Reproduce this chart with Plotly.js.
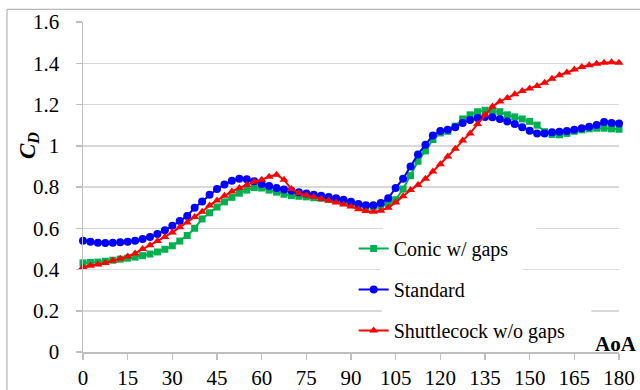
<!DOCTYPE html>
<html>
<head>
<meta charset="utf-8">
<script src="https://cdn.plot.ly/plotly-3.0.1.min.js"></script>
<style>
html,body{margin:0;padding:0;background:#fff;}
#chart{width:640px;height:390px;}
</style>
</head>
<body>
<div id="chart"></div>
<script>
// AoA in 2.5 degree steps
const aoa = [];
for (let i = 0; i <= 72; i++) aoa.push(i * 2.5);

const seriesNames = ["Conic w/ gaps", "Standard", "Shuttlecock w/o gaps"];

const conic = [
  0.432,0.434,0.436,0.440,0.445,0.450,0.455,0.460,0.467,0.475,
  0.485,0.498,0.515,0.538,0.565,0.600,0.645,0.675,0.703,0.728,
  0.750,0.770,0.785,0.797,0.795,0.785,0.775,0.765,0.758,0.755,
  0.752,0.748,0.745,0.740,0.735,0.728,0.718,0.710,0.705,0.705,
  0.708,0.720,0.738,0.790,0.855,0.925,0.975,1.030,1.062,1.070,
  1.095,1.130,1.150,1.165,1.172,1.170,1.165,1.150,1.140,1.130,
  1.118,1.100,1.068,1.055,1.053,1.060,1.070,1.077,1.082,1.085,
  1.085,1.082,1.080
];

const standard = [
  0.540,0.535,0.530,0.528,0.530,0.532,0.535,0.540,0.548,0.558,
  0.572,0.590,0.612,0.635,0.660,0.700,0.730,0.763,0.790,0.812,
  0.830,0.840,0.838,0.828,0.815,0.805,0.795,0.788,0.782,0.775,
  0.768,0.762,0.757,0.752,0.746,0.738,0.728,0.718,0.712,0.712,
  0.722,0.746,0.795,0.840,0.900,0.958,1.005,1.050,1.072,1.078,
  1.090,1.110,1.125,1.135,1.140,1.138,1.130,1.118,1.105,1.090,
  1.073,1.060,1.060,1.065,1.068,1.072,1.078,1.085,1.092,1.100,
  1.115,1.110,1.108
];

const shuttle = [
  0.412,0.418,0.424,0.432,0.442,0.452,0.463,0.478,0.500,0.518,
  0.538,0.558,0.580,0.605,0.628,0.655,0.680,0.710,0.735,0.758,
  0.778,0.795,0.810,0.825,0.835,0.850,0.860,0.835,0.790,0.770,
  0.760,0.752,0.742,0.735,0.725,0.715,0.705,0.692,0.684,0.680,
  0.685,0.700,0.725,0.755,0.785,0.810,0.840,0.875,0.910,0.948,
  0.985,1.025,1.060,1.105,1.150,1.190,1.215,1.232,1.250,1.265,
  1.278,1.290,1.305,1.325,1.342,1.355,1.370,1.382,1.390,1.398,
  1.402,1.405,1.403
];

const xTicks = [0,15,30,45,60,75,90,105,120,135,150,165,180];
const yTicks = [0,0.2,0.4,0.6,0.8,1,1.2,1.4,1.6];

const serif = "'Liberation Serif', 'Times New Roman', Times, serif";

const traces = [
  {x: aoa, y: conic, name: seriesNames[0], legendgroup: "a", type: "scatter", mode: "lines+markers",
   line: {color: "#00B050", width: 2}, marker: {symbol: "square", size: 7, color: "#00B050"}, cliponaxis: false},
  {x: aoa, y: standard, name: seriesNames[1], legendgroup: "b", type: "scatter", mode: "lines+markers",
   line: {color: "#0000FF", width: 2}, marker: {symbol: "circle", size: 8, color: "#0000FF"}, cliponaxis: false},
  {x: aoa, y: shuttle, name: seriesNames[2], legendgroup: "c", type: "scatter", mode: "lines+markers",
   line: {color: "#FF0000", width: 2}, marker: {symbol: "triangle-up", size: 8, color: "#FF0000"}, cliponaxis: false}
];

const layout = {
  width: 640, height: 390,
  margin: {l: 83, r: 21, t: 22, b: 38},
  paper_bgcolor: "#fff", plot_bgcolor: "#fff",
  font: {family: serif, size: 21, color: "#000"},
  showlegend: true,
  legend: {
    x: 0.505, y: 0.373, xanchor: "left", yanchor: "top",
    bgcolor: "rgba(0,0,0,0)", borderwidth: 0,
    font: {family: serif, size: 20, color: "#000"},
    traceorder: "grouped", tracegroupgap: 12
  },
  xaxis: {
    range: [0, 180], tickvals: xTicks, ticktext: xTicks.map(String),
    showgrid: false, zeroline: false,
    showline: true, linecolor: "#bfbfbf", linewidth: 1.5,
    ticks: "outside", ticklen: 6, tickcolor: "#bfbfbf", tickwidth: 1.5,
    tickfont: {family: serif, size: 21, color: "#000"}
  },
  yaxis: {
    range: [0, 1.6], tickvals: yTicks, ticktext: yTicks.map(String),
    showgrid: true, gridcolor: "#d9d9d9", gridwidth: 1.5, zeroline: false,
    showline: true, linecolor: "#bfbfbf", linewidth: 1.5,
    ticks: "outside", ticklen: 6, tickcolor: "#bfbfbf", tickwidth: 1.5,
    ticklabelstandoff: 12,
    tickfont: {family: serif, size: 21, color: "#000"}
  },
  shapes: [
    {type: "rect", xref: "paper", yref: "paper", x0: -0.1418, x1: 1.2, y0: -0.3, y1: 1.0385,
     line: {color: "#a6a6a6", width: 1}, fillcolor: "rgba(0,0,0,0)", layer: "below"},
    {type: "rect", xref: "x", yref: "y", x0: 100.8, x1: 152.3, y0: 0.585, y1: 0.615,
     line: {width: 0}, fillcolor: "#fff", layer: "between"},
    {type: "rect", xref: "x", yref: "y", x0: 99.7, x1: 147.6, y0: 0.385, y1: 0.415,
     line: {width: 0}, fillcolor: "#fff", layer: "between"},
    {type: "rect", xref: "x", yref: "y", x0: 100.3, x1: 170.7, y0: 0.185, y1: 0.215,
     line: {width: 0}, fillcolor: "#fff", layer: "between"}
  ],
  annotations: [
    {text: "<b><i>C</i></b><sub><b><i>D</i></b></sub>", xref: "paper", yref: "paper",
     x: -0.102, y: 0.625, textangle: -90, showarrow: false,
     font: {family: serif, size: 23, color: "#000"}, xanchor: "center", yanchor: "middle"},
    {text: "<b>AoA</b>", xref: "paper", yref: "paper",
     x: 0.952, y: 0.025, showarrow: false, xanchor: "left", yanchor: "middle",
     font: {family: serif, size: 21, color: "#000"}}
  ]
};

Plotly.newPlot("chart", traces, layout, {displayModeBar: false, staticPlot: true});
</script>
</body>
</html>
